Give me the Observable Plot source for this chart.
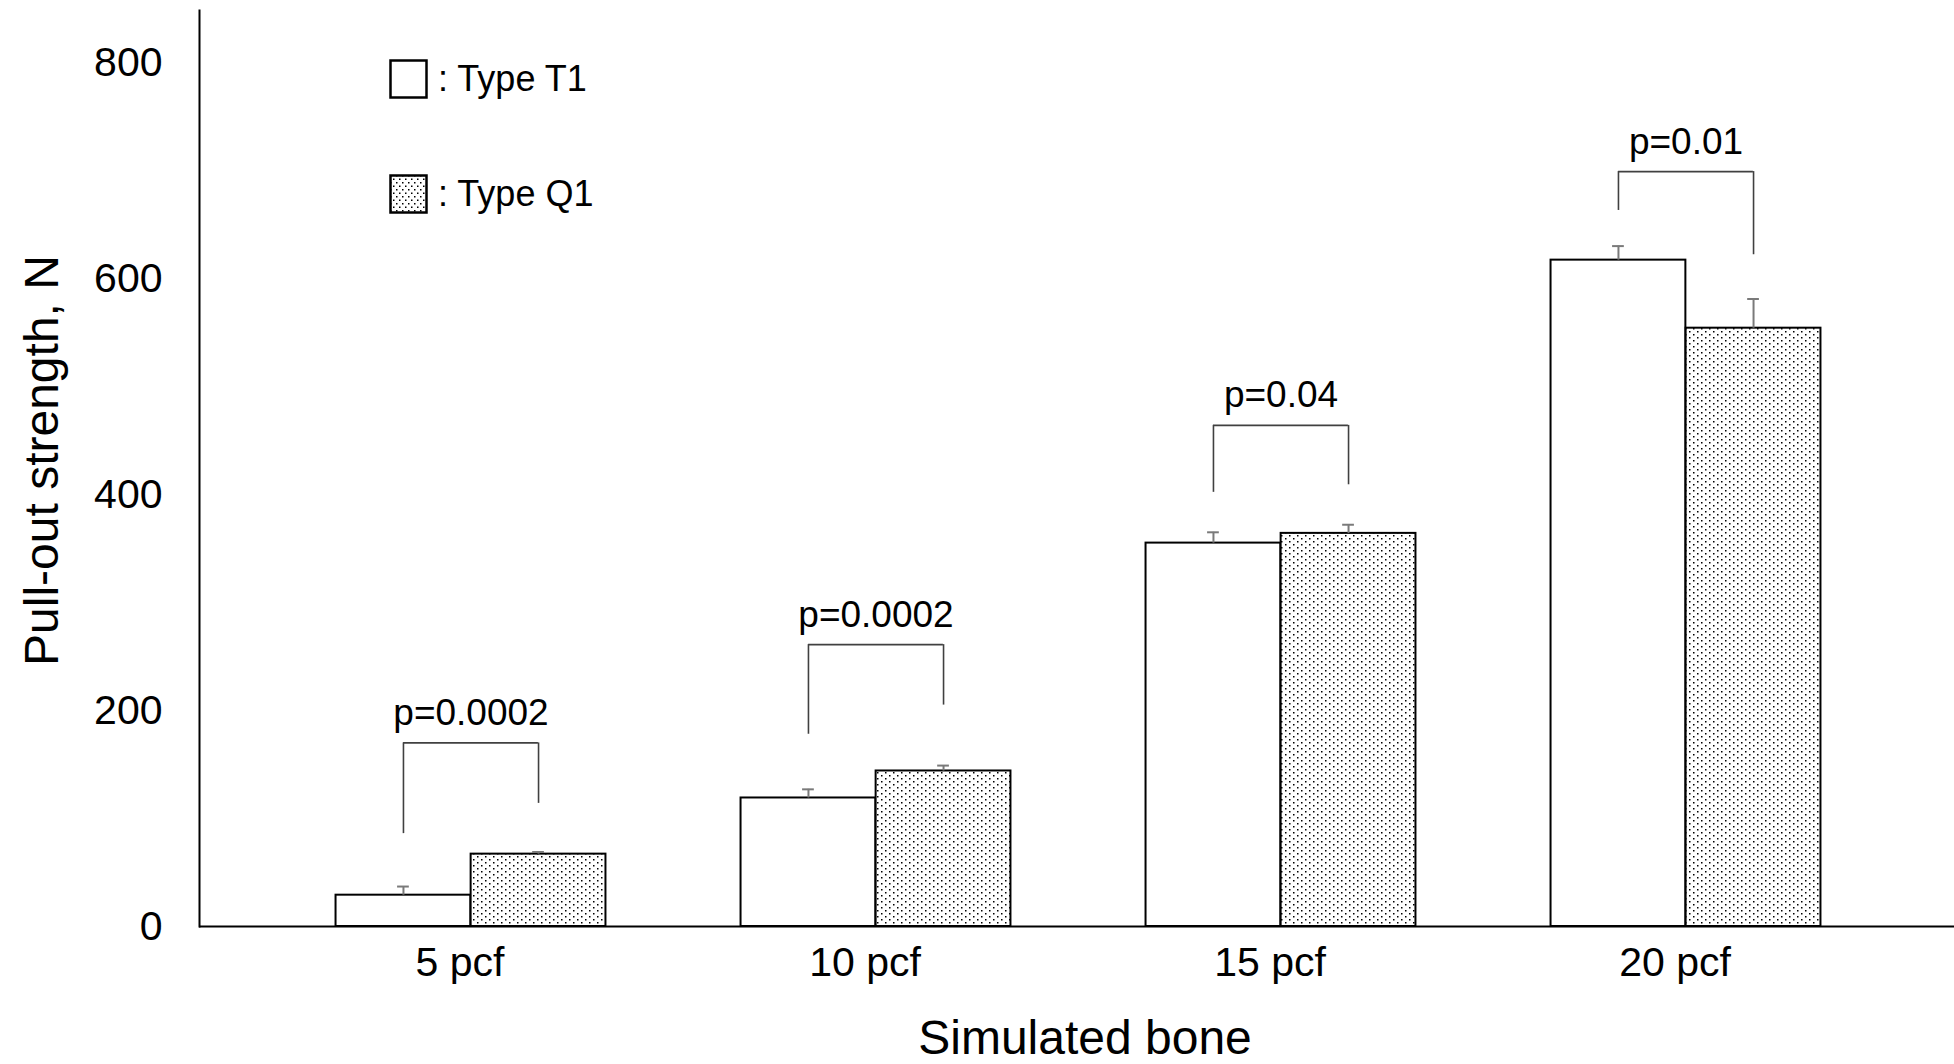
<!DOCTYPE html>
<html><head><meta charset="utf-8">
<script src="https://cdn.jsdelivr.net/npm/d3@7"></script>
<script src="https://cdn.jsdelivr.net/npm/@observablehq/plot@0.6"></script>
<style>
body{margin:0;background:#fff;font-family:"Liberation Sans",Arial,sans-serif;}
#wrap{position:relative;width:1954px;height:1064px;overflow:hidden;}
.leg{position:absolute;display:flex;align-items:center;font-size:36px;color:#000;line-height:1;}
.leg svg{margin-right:9px;display:block;}
</style></head><body><div id="wrap"></div>
<script>
// ---- data ----
const categories = ["5 pcf", "10 pcf", "15 pcf", "20 pcf"];
const seriesNames = ["Type T1", "Type Q1"];
const t1Mean = [29, 119, 355, 617];
const t1Err = [8, 8, 10, 13];
const q1Mean = [67, 144, 364, 554];
const q1Err = [2, 5, 8, 27];
const pLabels = ["p=0.0002", "p=0.0002", "p=0.04", "p=0.01"];
const bracketTop = [170, 261, 464, 699];
const bracketLeftEnd = [86, 178, 402, 663];
const bracketRightEnd = [114, 205, 409, 622];
const yTicks = [0, 200, 400, 600, 800];
const yDomain = [0, 800];

// ---- layout ----
const xRange = [267.5, 1888.5];
const bw = (xRange[1] - xRange[0]) / categories.length;
const off = bw / 6;
const cap = 6;

const rows = categories.flatMap((c, i) => [
  {cat: c, type: "T1", value: t1Mean[i], err: t1Err[i]},
  {cat: c, type: "Q1", value: q1Mean[i], err: q1Err[i]}
]);
const T1 = rows.filter(d => d.type === "T1");
const Q1 = rows.filter(d => d.type === "Q1");
const brackets = categories.map((c, i) => ({cat: c, top: bracketTop[i], left: bracketLeftEnd[i], right: bracketRightEnd[i], label: pLabels[i]}));

const NS = "http://www.w3.org/2000/svg";
function makePattern(id, w, h, s) {
  const p = document.createElementNS(NS, "pattern");
  p.setAttribute("id", id);
  p.setAttribute("patternUnits", "userSpaceOnUse");
  p.setAttribute("width", w);
  p.setAttribute("height", h);
  const bg = document.createElementNS(NS, "rect");
  bg.setAttribute("width", w); bg.setAttribute("height", h); bg.setAttribute("fill", "white");
  p.appendChild(bg);
  [[1, 1], [1 + w / 2, 1 + h / 2]].forEach(([x, y]) => {
    const dot = document.createElementNS(NS, "rect");
    dot.setAttribute("x", x); dot.setAttribute("y", y);
    dot.setAttribute("width", s); dot.setAttribute("height", s); dot.setAttribute("fill", "black");
    p.appendChild(dot);
  });
  return p;
}
const patternDefs = () => {
  const defs = document.createElementNS(NS, "defs");
  defs.appendChild(makePattern("dots", 8, 6, 1.5));
  return defs;
};

const errStroke = "#7a7a7a";
const brStroke = "#404040";

const chart = Plot.plot({
  width: 1954, height: 1064,
  marginLeft: 199, marginRight: 0, marginTop: 10, marginBottom: 138,
  style: {fontFamily: '"Liberation Sans", Arial, sans-serif', fontSize: "41px", color: "black", background: "white", overflow: "visible"},
  x: {type: "band", domain: categories, range: xRange, padding: 0},
  y: {domain: yDomain, range: [926, 62]},
  marks: [
    patternDefs,
    Plot.barY(T1, {x: "cat", y: "value", fill: "white", stroke: "black", strokeWidth: 2, insetLeft: off, insetRight: bw / 2}),
    Plot.barY(Q1, {x: "cat", y: "value", fill: "url(#dots)", stroke: "black", strokeWidth: 2, insetLeft: bw / 2, insetRight: off}),
    Plot.ruleX(T1, {x: "cat", y1: "value", y2: d => d.value + d.err, dx: -off, stroke: errStroke, strokeWidth: 2}),
    Plot.ruleX(Q1, {x: "cat", y1: "value", y2: d => d.value + d.err, dx: off, stroke: errStroke, strokeWidth: 2}),
    Plot.tickY(T1, {x: "cat", y: d => d.value + d.err, insetLeft: bw / 2 - off - cap, insetRight: bw / 2 + off - cap, stroke: errStroke, strokeWidth: 2}),
    Plot.tickY(Q1, {x: "cat", y: d => d.value + d.err, insetLeft: bw / 2 + off - cap, insetRight: bw / 2 - off - cap, stroke: errStroke, strokeWidth: 2}),
    Plot.tickY(brackets, {x: "cat", y: "top", insetLeft: bw / 2 - off, insetRight: bw / 2 - off, stroke: brStroke, strokeWidth: 1.6}),
    Plot.ruleX(brackets, {x: "cat", y1: "left", y2: "top", dx: -off, stroke: brStroke, strokeWidth: 1.6}),
    Plot.ruleX(brackets, {x: "cat", y1: "right", y2: "top", dx: off, stroke: brStroke, strokeWidth: 1.6}),
    Plot.text(brackets, {x: "cat", y: "top", text: "label", dy: -18, lineAnchor: "bottom", fontSize: 37, fill: "black"}),
    Plot.axisY({ticks: yTicks, tickSize: 0, tickPadding: 37, label: null, fontSize: 41}),
    Plot.axisX({tickSize: 0, tickPadding: 20, label: null, fontSize: 41, dx: -11}),
    Plot.ruleY([0], {stroke: "black", strokeWidth: 2}),
    Plot.frame({anchor: "left", stroke: "black", strokeWidth: 2}),
    Plot.text(["Simulated bone"], {text: d => d, frameAnchor: "bottom", textAnchor: "middle", dx: 8, dy: 93, lineAnchor: "top", fontSize: 48, fill: "black"}),
    Plot.text(["Pull-out strength, N"], {text: d => d, frameAnchor: "left", textAnchor: "middle", rotate: -90, dx: -157, dy: -8, lineAnchor: "middle", fontSize: 48, fill: "black"})
  ]
});
const wrap = document.getElementById("wrap");
wrap.appendChild(chart);

// legend
const legendTops = [59, 174];
seriesNames.forEach((name, i) => {
  const div = document.createElement("div");
  div.className = "leg";
  div.style.left = "389px";
  div.style.top = legendTops[i] + "px";
  const sw = document.createElementNS(NS, "svg");
  sw.setAttribute("width", 40); sw.setAttribute("height", 40);
  if (i === 1) {
    const d = document.createElementNS(NS, "defs");
    d.appendChild(makePattern("dotsLegend", 6, 7, 1.5));
    sw.appendChild(d);
  }
  const r = document.createElementNS(NS, "rect");
  r.setAttribute("x", 1.5); r.setAttribute("y", 1.5); r.setAttribute("width", 36); r.setAttribute("height", 37);
  r.setAttribute("fill", i === 0 ? "white" : "url(#dotsLegend)");
  r.setAttribute("stroke", "black"); r.setAttribute("stroke-width", 2.5);
  sw.appendChild(r);
  div.appendChild(sw);
  const t = document.createElement("span");
  t.textContent = ": " + name;
  div.appendChild(t);
  wrap.appendChild(div);
});
</script></body></html>
